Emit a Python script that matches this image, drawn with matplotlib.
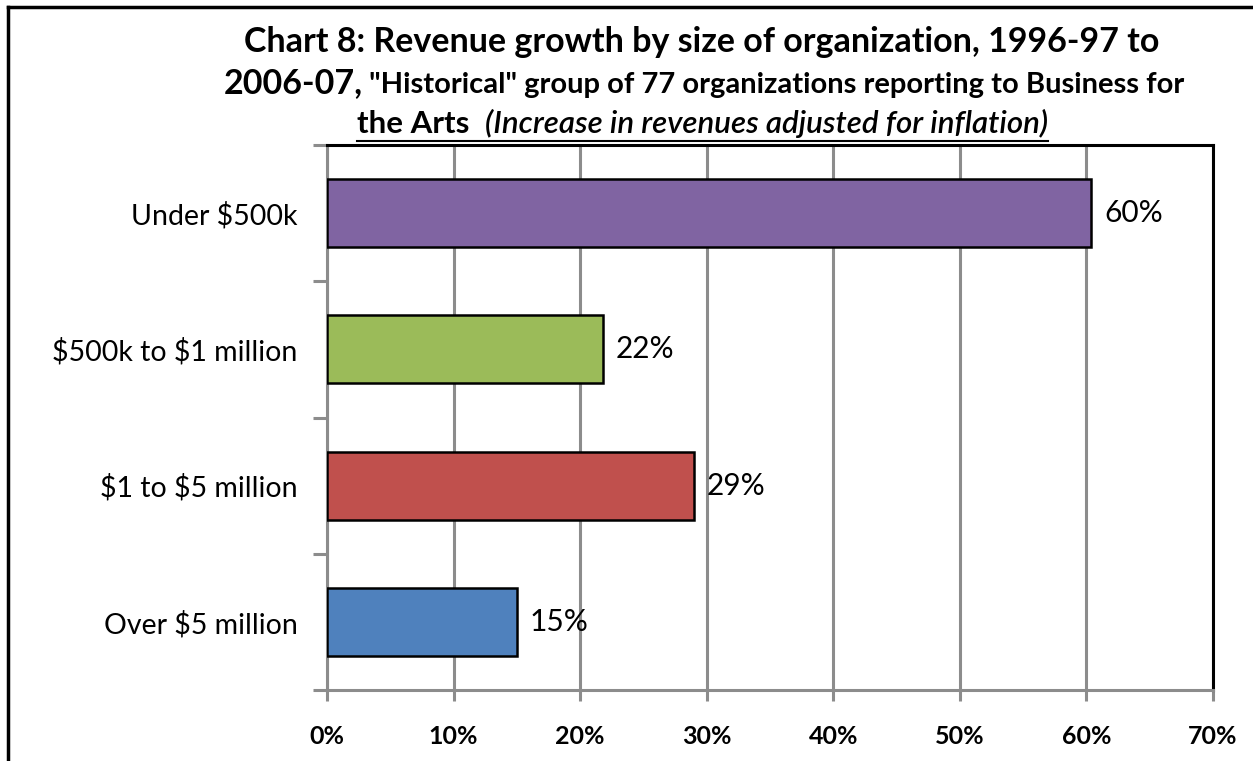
import matplotlib
matplotlib.use("Agg")
import matplotlib.pyplot as plt
from matplotlib.lines import Line2D
import numpy as np

plt.rcParams["font.family"] = ["Lato", "DejaVu Sans"]

# data
categories = [r"Under \$500k", r"\$500k to \$1 million", r"\$1 to \$5 million", r"Over \$5 million"]
growth = [60.4, 21.8, 29.0, 15.0]
labels = ["60%", "22%", "29%", "15%"]
colors = ["#8064A2", "#9BBB59", "#C0504D", "#4F81BD"]
xticks = [0, 10, 20, 30, 40, 50, 60, 70]

GRID = "#8C8C8C"

fig = plt.figure(figsize=(12.53, 7.61), dpi=100)
fig.patch.set_facecolor("white")
ax = fig.add_axes([327/1253, 1 - 690/761, (1213-327)/1253, (690-145)/761])

y = np.arange(len(categories))
ax.barh(y, growth, height=0.5, color=colors, edgecolor="black", linewidth=1.8, zorder=3)
for yi, v, lab in zip(y, growth, labels):
    ax.text(v + 1.0, yi, lab, va="center", ha="left", fontsize=21.5, zorder=4)

ax.set_xlim(0, 70)
ax.set_ylim(len(categories) - 0.5, -0.5)
ax.set_xticks(xticks)
ax.set_xticklabels([f"{t}%" for t in xticks], fontsize=18, fontweight="bold")
ax.xaxis.grid(True, color=GRID, linewidth=2.2, zorder=0)
ax.set_axisbelow(True)

# boundary ticks on y, labels at the centres
ax.set_yticks(np.arange(-0.5, len(categories)))
ax.set_yticklabels([])
ax.set_yticks(y, minor=True)
ax.set_yticklabels(categories, minor=True, fontsize=20.5)
ax.tick_params(axis="y", which="minor", length=0, pad=21)
ax.tick_params(axis="y", which="major", length=10, width=2.2, color=GRID)
ax.tick_params(axis="x", length=8, width=2.2, color=GRID, pad=17)

ax.spines["left"].set_color(GRID)
ax.spines["bottom"].set_color(GRID)
ax.spines["left"].set_linewidth(2.2)
ax.spines["bottom"].set_linewidth(2.2)
ax.spines["top"].set_color("black")
ax.spines["right"].set_color("black")
ax.spines["top"].set_linewidth(2.2)
ax.spines["right"].set_linewidth(2.2)

# outer frame (left and top edges visible)
fig.add_artist(Line2D([8/1253, 8/1253], [0, 1 - 7/761], color="black", lw=2.5,
                      transform=fig.transFigure))
fig.add_artist(Line2D([8/1253, 1], [1 - 7/761, 1 - 7/761], color="black", lw=2.5,
                      transform=fig.transFigure))

# title, built from pieces
fig.canvas.draw()
r = fig.canvas.get_renderer()

def W(t):
    return t.get_window_extent(renderer=r)

t1 = fig.text(702/1253, 1 - 52/761, "Chart 8: Revenue growth by size of organization, 1996-97 to",
              ha="center", va="baseline", fontsize=24.5, fontweight="bold")

a = fig.text(0, 1 - 93/761, "2006-07,", ha="left", va="baseline", fontsize=24.5, fontweight="bold")
b = fig.text(0, 1 - 93/761, ' "Historical" group of 77 organizations reporting to Business for',
             ha="left", va="baseline", fontsize=21, fontweight="bold")
wa, wb = W(a).width, W(b).width
x0 = (704 - (wa + wb) / 2)
a.set_x(x0 / 1253)
b.set_x((x0 + wa) / 1253)

c = fig.text(0, 1 - 133/761, "the Arts  ", ha="left", va="baseline", fontsize=22.5, fontweight="bold")
d = fig.text(0, 1 - 133/761, "(Increase in revenues adjusted for inflation)", ha="left",
             va="baseline", fontsize=22.5, fontstyle="italic", fontweight="semibold")
wc, wd = W(c).width, W(d).width
x1 = 357
c.set_x(x1 / 1253)
d.set_x((x1 + wc) / 1253)
fig.add_artist(Line2D([x1/1253, (x1 + wc + wd)/1253], [1 - 141/761, 1 - 141/761],
                      color="black", lw=1.5, transform=fig.transFigure))

fig.savefig("out.png", dpi=100, facecolor="white")
